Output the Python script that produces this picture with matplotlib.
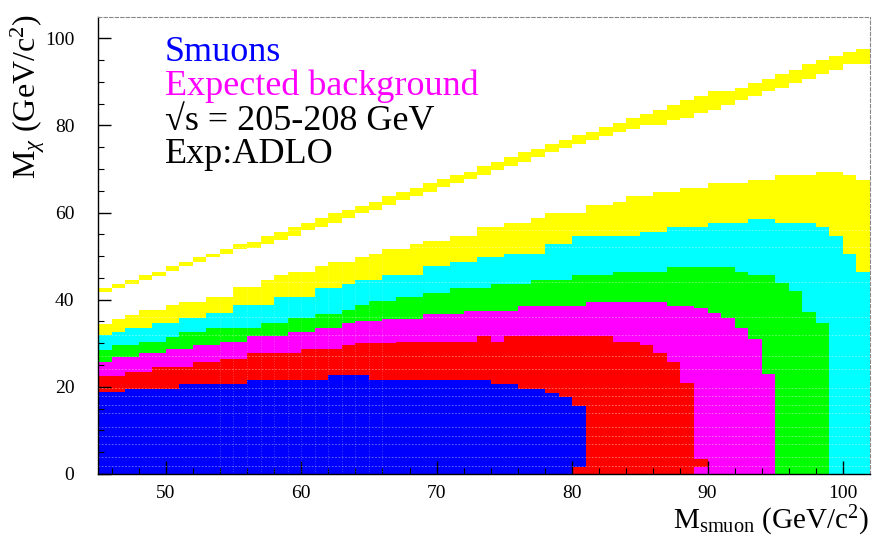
import numpy as np
import matplotlib
matplotlib.use("Agg")
import matplotlib.pyplot as plt

plt.rcParams['font.family'] = ['Liberation Serif', 'DejaVu Serif']
plt.rcParams['mathtext.fontset'] = 'custom'
plt.rcParams['mathtext.rm'] = 'Liberation Serif'
plt.rcParams['mathtext.it'] = 'Liberation Serif:italic'

# 1 GeV bins in smuon mass, lower edges 45 ... 101
m_smuon = np.arange(45, 102)

# upper edge of each coloured level per bin (GeV/c^2), levels nested from 0
blue_top = [18.9, 18.9, 19.6, 19.6, 19.6, 19.6, 20.6, 20.6, 20.6, 20.6, 20.6,
            21.5, 21.5, 21.5, 21.5, 21.5, 21.5, 22.7, 22.7, 22.7,
            21.5, 21.5, 21.5, 21.5, 21.5, 21.5, 21.5, 21.5, 21.5,
            20.6, 20.6, 19.6, 19.6, 18.7, 17.7, 15.5] + [0.0] * 21
red_top = [22.5, 22.5, 23.5, 23.5, 24.6, 24.6, 24.6, 25.8, 25.8, 26.5, 26.5,
           27.7, 27.7, 27.7, 27.7, 28.6, 28.6, 28.6, 29.6, 30.0, 30.0, 30.0,
           30.3, 30.3, 30.3, 30.3, 30.3, 30.3, 31.7, 30.3,
           31.7, 31.7, 31.7, 31.7, 31.7, 31.7, 31.7, 31.7,
           30.3, 30.3, 29.6, 27.7, 25.8, 20.8] + [0.0] * 13
magenta_top = [25.8, 26.8, 26.8, 27.7, 27.7, 28.8, 28.8, 29.6, 29.6, 30.3, 30.3,
               31.7, 31.7, 31.7, 32.7, 32.7, 33.6, 33.6, 34.6, 35.0, 35.0,
               35.5, 35.5, 35.5, 36.7, 36.7, 36.7, 37.4, 37.4, 37.4, 37.4,
               38.6, 38.6, 38.6, 38.6, 38.6, 39.5, 39.5, 39.5, 39.5, 39.5, 39.5,
               38.5, 38.5, 38.0, 37.0, 35.7, 33.5, 31.0, 23.0] + [0.0] * 7
green_top = [28.4, 29.6, 29.6, 30.3, 30.3, 31.5, 32.6, 32.6, 33.6, 33.6, 33.6, 33.6,
             34.6, 34.6, 35.7, 35.7, 36.7, 36.7, 37.6, 38.8, 39.8, 39.8,
             40.7, 40.7, 41.6, 41.6, 42.6, 42.6, 42.6, 43.6, 43.6, 43.6,
             44.5, 44.5, 44.5, 45.7, 45.7, 45.7, 46.4, 46.4, 46.4, 46.4,
             47.6, 47.6, 47.6, 47.6, 47.6, 46.4, 45.7, 45.7, 43.8, 42.0,
             37.2, 34.7, 0.0, 0.0, 0.0]
cyan_top = [31.9, 32.6, 33.6, 33.6, 34.6, 34.6, 35.7, 35.7, 36.9, 36.9,
            38.8, 38.8, 38.8, 40.7, 40.7, 40.7, 42.6, 42.6, 43.6, 44.5, 44.5,
            45.7, 45.7, 45.7, 47.7, 47.7, 48.7, 48.7, 49.7, 49.7, 50.6, 50.6, 50.6,
            52.7, 52.7, 54.6, 54.6, 54.6, 54.6, 54.6, 55.6, 55.6,
            56.6, 56.6, 56.6, 57.5, 57.5, 57.5, 58.5, 58.5, 57.5, 57.5, 57.5,
            56.6, 54.6, 50.6, 46.4]
yellow_top = [34.5, 35.5, 36.5, 37.6, 37.6, 38.8, 39.5, 39.5, 40.7, 40.7,
              43.0, 43.0, 44.5, 45.7, 46.4, 46.4, 47.7, 48.7, 48.7, 49.7, 50.6,
              51.6, 51.6, 52.7, 53.5, 53.5, 54.6, 54.6, 56.8, 56.8, 57.7, 57.7,
              58.7, 59.8, 59.8, 59.8, 61.8, 61.8, 62.5, 63.7, 63.7, 64.8, 64.8,
              65.6, 65.6, 66.7, 66.7, 66.7, 67.5, 67.5, 68.7, 68.7, 68.7,
              69.4, 69.4, 68.7, 67.5]

# band along the kinematic limit
diag_hi = [42.6, 43.6, 44.5, 45.7, 46.4, 47.7, 48.7, 49.7, 50.6, 51.6, 52.7, 53.2,
           54.6, 55.6, 56.6, 57.7, 58.7, 59.8, 60.6,
           61.6, 62.5, 63.7, 64.7, 65.6, 66.7, 67.7, 68.7, 69.4, 70.7, 71.7, 72.7,
           73.8, 74.6, 75.8, 76.7, 77.7, 78.6, 79.6,
           80.6, 81.6, 82.6,
           83.6, 84.8, 85.9, 86.7, 87.8, 87.8, 88.6, 89.7, 90.7, 91.9, 92.8, 94.0,
           95.0, 95.9, 96.9, 97.6]
diag_lo = [41.7, 42.6, 43.6, 44.5, 45.4, 46.7, 47.7, 48.7, 49.7, 50.6, 51.6, 51.8,
           52.7, 53.7, 54.6, 56.0, 56.6, 57.7, 58.7,
           60.0, 60.6, 61.8, 62.9, 63.7, 64.8, 65.8, 66.7, 67.7, 68.7, 69.7, 70.7,
           71.7, 72.7, 73.8, 74.8, 75.8, 76.7, 77.6,
           78.5, 79.2, 80.0,
           80.2, 81.3, 81.7, 82.8, 83.6, 84.8, 85.9, 86.7, 87.8, 88.6, 89.7, 90.7,
           91.9, 92.8, 94.0, 94.2]

# isolated red cells near the bottom edge
red_spot_x = [80, 89]
red_spot_lo = [0.0, 1.6]
red_spot_hi = [1.6, 3.5]

# faint cell-boundary lines left by the box rendering
seam_y = [1.8, 3.8, 6.8, 8.7, 10.7, 13.9, 15.8, 17.8, 19.8, 24.0, 27.0, 32.0, 36.0,
          44.0, 52.0, 56.0]
seam_x = list(range(54, 67))

fig = plt.figure(figsize=(8.76, 5.38), dpi=100)
ax = fig.add_axes([0.1119, 0.119, 0.8813, 0.8503])

edges = np.append(m_smuon, m_smuon[-1] + 1)

def step(v):
    v = np.asarray(v, dtype=float)
    return np.append(v, v[-1])

layers = [(yellow_top, '#ffff00'), (cyan_top, '#00ffff'), (green_top, '#00ff00'),
          (magenta_top, '#ff00ff'), (red_top, '#ff0000'), (blue_top, '#0000ff')]
for top, col in layers:
    ax.fill_between(edges, 0, step(top), step='post', color=col, lw=0)

ax.fill_between(edges, step(diag_lo), step(diag_hi), step='post', color='#ffff00', lw=0)
ax.bar(red_spot_x, np.subtract(red_spot_hi, red_spot_lo), bottom=red_spot_lo,
       width=1, align='edge', color='#ff0000', lw=0)

for y in seam_y:
    ax.axhline(y, color='white', lw=0.6, ls=(0, (2, 2)), alpha=0.45)
for x in seam_x:
    ax.axvline(x, color='white', lw=0.6, ls=(0, (1, 2)), alpha=0.35)

ax.set_xlim(45, 102)
ax.set_ylim(0, 105)
ax.set_xticks([50, 60, 70, 80, 90, 100])
ax.set_xticks(np.arange(46, 102, 2), minor=True)
ax.set_yticks([0, 20, 40, 60, 80, 100])
ax.set_yticks(np.arange(0, 105, 5), minor=True)
ax.tick_params(which='both', direction='in', top=False, right=False, color='black')
ax.tick_params(which='major', length=9.5, width=1.0, labelsize=14)
ax.tick_params(which='minor', length=4.5, width=0.8)
ax.tick_params(axis='x', pad=8)
ax.tick_params(axis='y', pad=17)

for side in ('top', 'right'):
    ax.spines[side].set_linestyle((0, (3, 2)))
    ax.spines[side].set_color('#888888')
    ax.spines[side].set_linewidth(0.8)
for side in ('left', 'bottom'):
    ax.spines[side].set_color('black')
    ax.spines[side].set_linewidth(1.0)

fig.text(28 / 876, 1 - 14 / 538, r'M$_{\chi}$ (GeV/c$^{2}$)', rotation=90,
         ha='center', va='top', fontsize=23)
fig.text(869 / 876, 0.0, r'M$_{\rm smuon}$ (GeV/c$^{2}$)',
         ha='right', va='bottom', fontsize=21)

tx = 0.0868
ax.text(tx, 0.903, 'Smuons', color='#0000ff', fontsize=26, transform=ax.transAxes)
ax.text(tx, 0.828, 'Expected background', color='#ff00ff', fontsize=26,
        transform=ax.transAxes)
ax.text(tx, 0.752, '\u221as = 205-208 GeV', color='black', fontsize=26,
        transform=ax.transAxes)
ax.text(tx, 0.680, 'Exp:ADLO', color='black', fontsize=26, transform=ax.transAxes)

fig.savefig('out.png', dpi=100, facecolor='white')
